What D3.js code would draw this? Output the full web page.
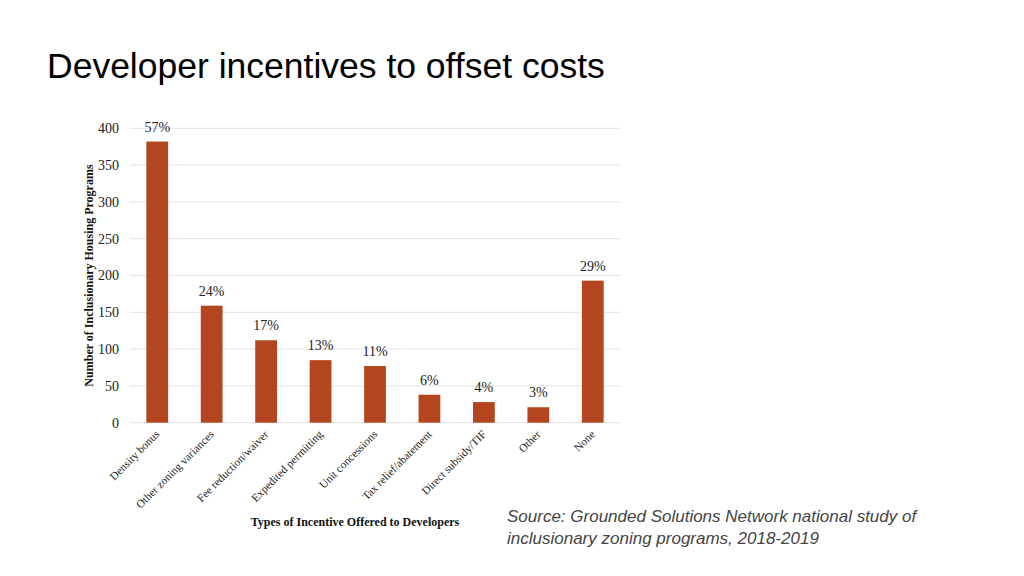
<!DOCTYPE html>
<html>
<head>
<meta charset="utf-8">
<script src="https://cdn.jsdelivr.net/npm/d3@7"></script>
<style>
  html, body { margin: 0; padding: 0; background: #ffffff; }
  svg { display: block; }
</style>
</head>
<body>
<script>
const categories = ["Density bonus", "Other zoning variances", "Fee reduction/waiver", "Expedited permitting", "Unit concessions", "Tax relief/abatement", "Direct subsidy/TIF", "Other", "None"];
const counts = [382, 159, 112, 85, 77, 38, 28, 21, 193];
const percentLabels = ["57%", "24%", "17%", "13%", "11%", "6%", "4%", "3%", "29%"];
const yTicks = [0, 50, 100, 150, 200, 250, 300, 350, 400];

const W = 1024, H = 576;
const svg = d3.select("body").append("svg").attr("width", W).attr("height", H);

svg.append("text")
  .attr("x", 47).attr("y", 78)
  .attr("font-family", "Liberation Sans, Arial, sans-serif")
  .attr("font-size", 35.5)
  .attr("fill", "#000")
  .text("Developer incentives to offset costs");

const x = d3.scaleBand().domain(categories).range([130, 620]).paddingInner(0.6).paddingOuter(0.3);
const y = d3.scaleLinear().domain([0, 400]).range([422.7, 128.3]);

const serif = "Liberation Serif, Times New Roman, serif";

// gridlines
svg.append("g").selectAll("line").data(yTicks).join("line")
  .attr("x1", 130).attr("x2", 620)
  .attr("y1", d => y(d)).attr("y2", d => y(d))
  .attr("stroke", "#e3e3e3").attr("stroke-width", 1);

// y axis labels via d3 axis
const yAxis = d3.axisLeft(y).tickValues(yTicks).tickSize(0).tickPadding(0);
const gy = svg.append("g").attr("transform", "translate(119,0)").call(yAxis);
gy.select(".domain").remove();
gy.selectAll("text").attr("font-family", serif).attr("font-size", 14).attr("fill", "#222");

// bars
svg.append("g").selectAll("rect").data(categories).join("rect")
  .attr("x", d => x(d))
  .attr("width", x.bandwidth())
  .attr("y", (d, i) => y(counts[i]))
  .attr("height", (d, i) => y(0) - y(counts[i]))
  .attr("fill", "#b4461f");

// percent labels
svg.append("g").selectAll("text").data(categories).join("text")
  .attr("x", d => x(d) + x.bandwidth() / 2)
  .attr("y", (d, i) => y(counts[i]) - 10)
  .attr("text-anchor", "middle")
  .attr("font-family", serif).attr("font-size", 14).attr("fill", "#222")
  .text((d, i) => percentLabels[i]);

// x labels
svg.append("g").selectAll("text").data(categories).join("text")
  .attr("transform", d => `translate(${x(d) + x.bandwidth() / 2 + 3},435) rotate(-45)`)
  .attr("text-anchor", "end")
  .attr("font-family", serif).attr("font-size", 11.3).attr("fill", "#222")
  .text(d => d);

// axis titles
svg.append("text")
  .attr("transform", "translate(93,275.5) rotate(-90)")
  .attr("text-anchor", "middle")
  .attr("font-family", serif).attr("font-size", 12).attr("font-weight", "bold").attr("fill", "#111")
  .text("Number of Inclusionary Housing Programs");

svg.append("text")
  .attr("x", 355).attr("y", 526)
  .attr("text-anchor", "middle")
  .attr("font-family", serif).attr("font-size", 12).attr("font-weight", "bold").attr("fill", "#111")
  .text("Types of Incentive Offered to Developers");

// source
const src = svg.append("text")
  .attr("font-family", "Liberation Sans, Arial, sans-serif")
  .attr("font-size", 17).attr("font-style", "italic").attr("fill", "#444");
src.append("tspan").attr("x", 507).attr("y", 522).text("Source: Grounded Solutions Network national study of");
src.append("tspan").attr("x", 507).attr("y", 544).text("inclusionary zoning programs, 2018-2019");
</script>
</body>
</html>
